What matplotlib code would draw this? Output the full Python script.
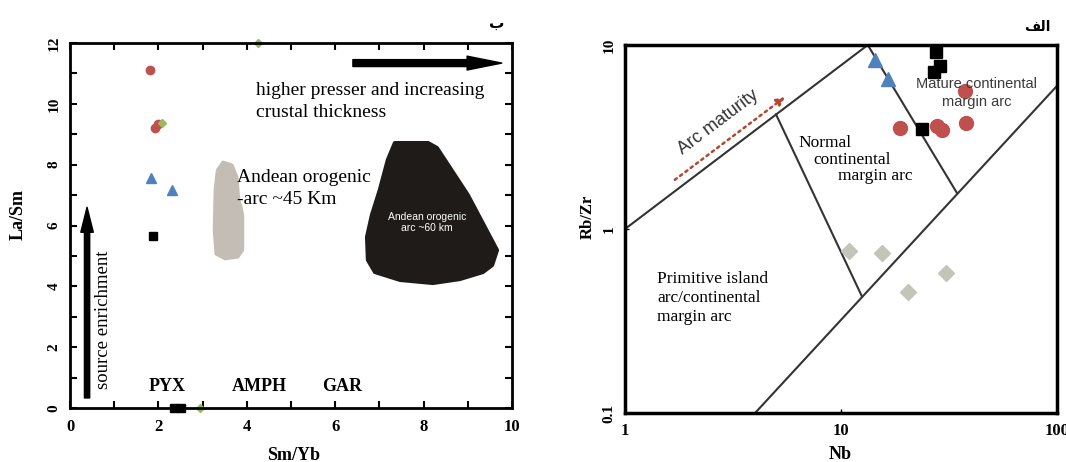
import numpy as np
import matplotlib
matplotlib.use("Agg")
import matplotlib.pyplot as plt
from matplotlib.patches import Polygon

plt.rcParams['font.family'] = ['Liberation Serif', 'DejaVu Serif']

# ---- left panel (Sm/Yb vs La/Sm) data ----
red_x = [1.8, 1.92, 2.0]
red_y = [11.1, 9.2, 9.35]
green_x = [2.08, 4.26, 2.95]
green_y = [9.37, 12.0, 0.0]
blue_x = [1.83, 2.3]
blue_y = [7.57, 7.17]
sq_x = [1.88, 2.35, 2.5]
sq_y = [5.66, 0.0, 0.0]

# field outlines (Sm/Yb, La/Sm)
grey_field_x = [3.46, 3.67, 3.78, 3.82, 3.87, 3.91, 3.91, 3.80, 3.51, 3.30, 3.26, 3.28, 3.33]
grey_field_y = [8.09, 7.99, 7.59, 6.84, 6.61, 6.34, 5.19, 4.96, 4.90, 5.06, 5.85, 7.17, 7.82]
black_field_x = [7.35, 8.1, 8.3, 9.0, 9.66, 9.55, 9.34, 8.82, 8.21, 7.47, 6.9, 6.74, 6.72, 6.83, 7.01, 7.19]
black_field_y = [8.71, 8.71, 8.55, 7.0, 5.19, 4.70, 4.47, 4.24, 4.11, 4.21, 4.47, 4.87, 5.62, 6.34, 7.17, 8.15]

mineral_labels = ['PYX', 'AMPH', 'GAR']
mineral_x = [2.19, 4.28, 6.15]

# ---- right panel (Nb vs Rb/Zr) data ----
tri_nb = [14.4, 16.5]
tri_rz = [8.3, 6.5]
sqr_nb = [27.5, 28.7, 27.0, 23.7]
sqr_rz = [9.2, 7.7, 7.1, 3.5]
circ_nb = [18.8, 27.8, 29.3, 37.9, 37.5]
circ_rz = [3.54, 3.63, 3.45, 3.77, 5.6]
dia_nb = [10.9, 15.5, 30.6, 20.4]
dia_rz = [0.76, 0.74, 0.58, 0.455]

# boundary lines (Nb, Rb/Zr)
bound_lines = [
    ([1.0, 13.3], [1.0, 10.0]),
    ([13.3, 34.4], [10.0, 1.57]),
    ([4.0, 100.0], [0.1, 6.0]),
    ([5.0, 12.5], [4.2, 0.43]),
]

fig = plt.figure(figsize=(10.66, 4.62), dpi=100)

# ================= left panel =================
ax1 = fig.add_axes([0.0657, 0.1169, 0.4146, 0.79])
ax1.set_xlim(0, 10)
ax1.set_ylim(0, 12)
for s in ax1.spines.values():
    s.set_linewidth(2)
ax1.set_xticks(np.arange(0, 11, 2))
ax1.set_yticks(np.arange(0, 13, 2))
ax1.set_xticks(np.arange(0, 11, 1), minor=True)
ax1.set_yticks(np.arange(0, 13, 1), minor=True)
ax1.tick_params(which='both', direction='in', top=True, right=True, length=5, width=1.5)
ax1.tick_params(axis='x', labelsize=12, pad=8)
ax1.tick_params(axis='y', labelsize=11, pad=7)
for lab in ax1.get_xticklabels():
    lab.set_fontweight('bold')
for lab in ax1.get_yticklabels():
    lab.set_fontweight('bold')
    lab.set_rotation(90)
    lab.set_va('center')

ax1.set_xlabel('Sm/Yb', fontsize=13, fontweight='bold', va='center')
ax1.xaxis.set_label_coords(0.505, -0.129)
ax1.set_ylabel('La/Sm', fontsize=13, fontweight='bold', va='center')
ax1.yaxis.set_label_coords(-0.118, 0.53)

ax1.add_patch(Polygon(np.column_stack([grey_field_x, grey_field_y]), closed=True,
                      facecolor='#c3bdb6', edgecolor='#c3bdb6', lw=2, joinstyle='round'))
ax1.add_patch(Polygon(np.column_stack([black_field_x, black_field_y]), closed=True,
                      facecolor='#1e1b18', edgecolor='#1e1b18', lw=3, joinstyle='round'))
ax1.text(8.08, 6.11, 'Andean orogenic\narc ~60 km', color='white', fontsize=7.5,
         family='Liberation Sans', ha='center', va='center', linespacing=1.1)

ax1.plot(red_x, red_y, 'o', color='#c0504d', ms=6, clip_on=False)
ax1.plot(green_x, green_y, 'D', color='#9bbb59', ms=4.5, clip_on=False)
ax1.plot(blue_x, blue_y, '^', color='#4f81bd', ms=6.5, clip_on=False)
ax1.plot(sq_x, sq_y, 's', color='black', ms=5.5, clip_on=False)

ax1.annotate('', xy=(9.77, 11.34), xytext=(6.4, 11.34),
             arrowprops=dict(arrowstyle='simple,head_width=1.0,head_length=2.5,tail_width=0.5',
                             color='black', shrinkA=0, shrinkB=0, mutation_scale=10))
ax1.annotate('', xy=(0.385, 6.6), xytext=(0.385, 0.33),
             arrowprops=dict(arrowstyle='simple,head_width=0.9,head_length=1.8,tail_width=0.38',
                             color='black', shrinkA=0, shrinkB=0, mutation_scale=10))
ax1.text(0.75, 2.9, 'source enrichment', rotation=90, fontsize=13.5, ha='center', va='center')
ax1.text(4.21, 10.45, 'higher presser and increasing', fontsize=14, ha='left', va='center')
ax1.text(4.21, 9.70, 'crustal thickness', fontsize=14, ha='left', va='center')
ax1.text(3.78, 7.59, 'Andean orogenic', fontsize=14, ha='left', va='center')
ax1.text(3.78, 6.87, '-arc ~45 Km', fontsize=14, ha='left', va='center')
for lab, xm in zip(mineral_labels, mineral_x):
    ax1.text(xm, 0.72, lab, fontsize=13, fontweight='bold', ha='center', va='center')

fig.text(0.466, 0.95, '\u0628', family='DejaVu Sans', fontsize=11, fontweight='bold',
         ha='center', va='center')

# ================= right panel =================
ax2 = fig.add_axes([0.5863, 0.106, 0.4053, 0.7966])
ax2.set_xscale('log')
ax2.set_yscale('log')
ax2.set_xlim(1, 100)
ax2.set_ylim(0.1, 10)
for s in ax2.spines.values():
    s.set_linewidth(2.5)
ax2.set_xticks([1, 10, 100])
ax2.set_xticklabels(['1', '10', '100'])
ax2.set_yticks([0.1, 1, 10])
ax2.set_yticklabels(['0.1', '1', '10'])
ax2.minorticks_off()
ax2.tick_params(direction='in', length=3, width=1)
ax2.tick_params(axis='x', labelsize=12, pad=7)
ax2.tick_params(axis='y', labelsize=11, pad=7)
for lab in ax2.get_xticklabels():
    lab.set_fontweight('bold')
for lab in ax2.get_yticklabels():
    lab.set_fontweight('bold')
    lab.set_rotation(90)
    lab.set_va('center')
ax2.set_xlabel('Nb', fontsize=13, fontweight='bold', va='center')
ax2.xaxis.set_label_coords(0.498, -0.112)
ax2.set_ylabel('Rb/Zr', fontsize=12, fontweight='bold', va='center')
ax2.yaxis.set_label_coords(-0.086, 0.533)

for bx, by in bound_lines:
    ax2.plot(bx, by, color='#333333', lw=1.5)

ax2.plot(dia_nb, dia_rz, 'D', color='#c2c5b8', ms=8)
ax2.plot(tri_nb, tri_rz, '^', color='#4f81bd', ms=10)
ax2.plot(circ_nb, circ_rz, 'o', color='#c0504d', ms=10)
ax2.plot(sqr_nb, sqr_rz, 's', color='black', ms=9)

ax2.annotate('', xy=(5.5, 5.21), xytext=(1.70, 1.85),
             arrowprops=dict(arrowstyle='-|>', color='#b5472f', lw=1.8, ls=':',
                             shrinkA=0, shrinkB=0, mutation_scale=12))
ax2.text(2.69, 3.82, 'Arc maturity', rotation=37, fontsize=13, family='Liberation Sans',
         color='#333333', ha='center', va='center', rotation_mode='anchor')
ax2.text(42.6, 5.48, 'Mature continental\nmargin arc', fontsize=10.5, family='Liberation Sans',
         color='#3a3a3a', ha='center', va='center', linespacing=1.3)
ax2.text(6.32, 2.93, 'Normal', fontsize=12.5, ha='left', va='center')
ax2.text(7.42, 2.37, 'continental', fontsize=12.5, ha='left', va='center')
ax2.text(9.68, 1.94, 'margin arc', fontsize=12.5, ha='left', va='center')
ax2.text(1.41, 0.42, 'Primitive island\narc/continental\nmargin arc', fontsize=12.5,
         ha='left', va='center', linespacing=1.25)

fig.text(0.973, 0.942, '\uFED2\uFEDF\uFE8D', family='DejaVu Sans', fontsize=10,
         fontweight='bold', ha='center', va='center')

fig.savefig('out.png', dpi=100)
